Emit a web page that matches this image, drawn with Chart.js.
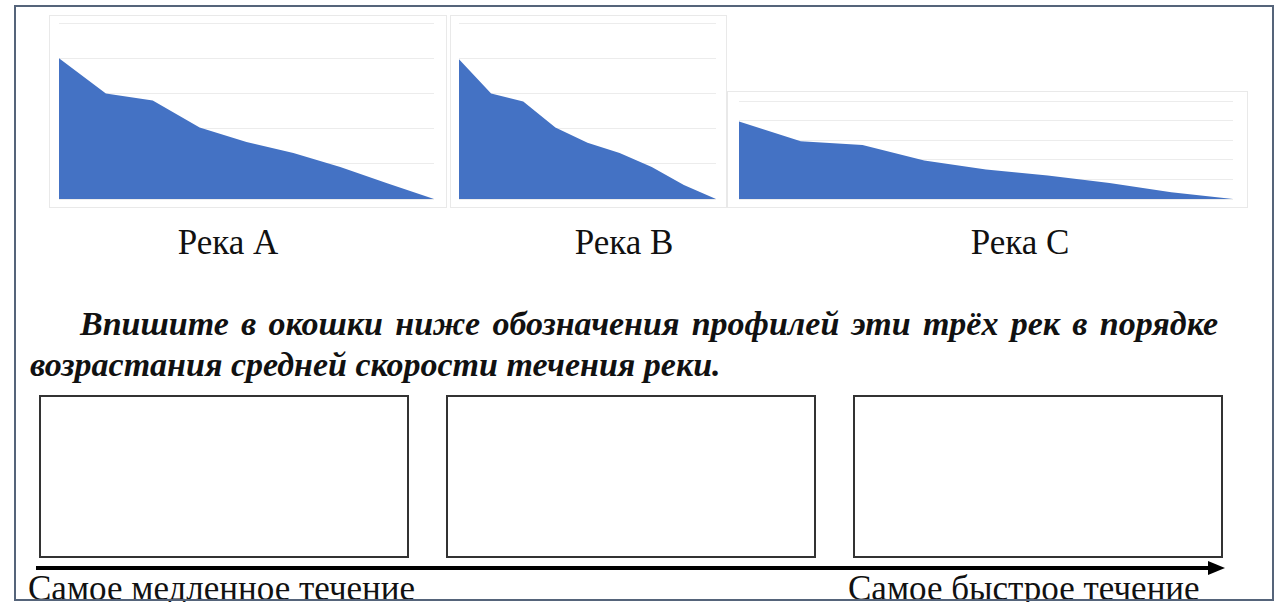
<!DOCTYPE html>
<html>
<head>
<meta charset="utf-8">
<script src="https://cdn.jsdelivr.net/npm/chart.js@4/dist/chart.umd.min.js"></script>
<style>
  body { margin: 0; width: 1281px; height: 602px; background: #fff; position: relative; overflow: hidden; font-family: "Liberation Serif", "Times New Roman", serif; color: #111; }
  .frame { position: absolute; left: 14px; top: 5px; width: 1256px; height: 592px; border: 2px solid #55647a; pointer-events: none; z-index: 5; }
  .chartBox { position: absolute; border: 1px solid #e9e9e9; }
  .chartBox canvas { display: block; }
  .label { position: absolute; font-size: 35px; width: 200px; text-align: center; line-height: 1; }
  .task { position: absolute; left: 30px; top: 303px; width: 1188px; font-size: 34px; line-height: 41px; font-style: italic; font-weight: bold; text-align: justify; text-indent: 50px; }
  .answer { position: absolute; top: 395px; width: 366px; height: 159px; border: 2px solid #333; }
  .arrow { position: absolute; left: 36px; top: 566px; width: 1176px; height: 4px; background: #000; }
  .head { position: absolute; left: 1208px; top: 561px; width: 0; height: 0; border-top: 7px solid transparent; border-bottom: 7px solid transparent; border-left: 17px solid #000; }
  .bottomText { position: absolute; font-size: 35px; line-height: 1; top: 571px; white-space: nowrap; }
</style>
</head>
<body>
<div class="frame"></div>

<div class="chartBox" style="left:49px; top:15px;"><canvas id="riverA" width="396" height="191"></canvas></div>
<div class="chartBox" style="left:450px; top:15px;"><canvas id="riverB" width="275" height="191"></canvas></div>
<div class="chartBox" style="left:727px; top:91px;"><canvas id="riverC" width="519" height="115"></canvas></div>

<div class="label" style="left:128px; top:225px;">Река А</div>
<div class="label" style="left:524px; top:225px;">Река В</div>
<div class="label" style="left:920px; top:225px;">Река С</div>

<div class="task">Впишите в окошки ниже обозначения профилей эти трёх рек в порядке возрастания средней скорости течения реки.</div>

<div class="answer" style="left:39px;"></div>
<div class="answer" style="left:446px;"></div>
<div class="answer" style="left:853px;"></div>

<div class="arrow"></div>
<div class="head"></div>

<div class="bottomText" style="left:28px;">Самое медленное течение</div>
<div class="bottomText" style="left:848px;">Самое быстрое течение</div>

<script>
// points along each river profile, from source to mouth
const stations = ['1', '2', '3', '4', '5', '6', '7', '8', '9'];
const riverA = [4.0, 3.0, 2.8, 2.03, 1.62, 1.31, 0.91, 0.45, 0];
const riverB = [3.97, 3.0, 2.77, 2.03, 1.6, 1.31, 0.91, 0.4, 0];
const riverC = [3.95, 2.95, 2.75, 1.97, 1.5, 1.2, 0.82, 0.34, 0];
const yTicks = [0, 1, 2, 3, 4, 5];

function drawProfile(id, values, pad) {
    let ctx = document.getElementById(id).getContext('2d');
    new Chart(ctx, {
        type: 'line',
        data: {
            labels: stations,
            datasets: [{
                data: values,
                fill: 'origin',
                backgroundColor: '#4472c4',
                borderWidth: 0,
                pointRadius: 0,
                tension: 0
            }]
        },
        options: {
            responsive: false,
            animation: false,
            layout: { padding: pad },
            plugins: { legend: { display: false }, tooltip: { enabled: false } },
            scales: {
                x: { display: false, offset: false },
                y: {
                    min: yTicks[0],
                    max: yTicks[yTicks.length - 1],
                    afterBuildTicks: axis => { axis.ticks = yTicks.map(v => ({ value: v })); },
                    ticks: { display: false },
                    border: { display: false },
                    grid: { color: '#ececec', lineWidth: 1, drawTicks: false }
                }
            }
        }
    });
}

drawProfile('riverA', riverA, { left: 9, right: 12, top: 7, bottom: 8 });
drawProfile('riverB', riverB, { left: 8, right: 10, top: 7, bottom: 8 });
drawProfile('riverC', riverC, { left: 11, right: 14, top: 9, bottom: 8 });
</script>
</body>
</html>
